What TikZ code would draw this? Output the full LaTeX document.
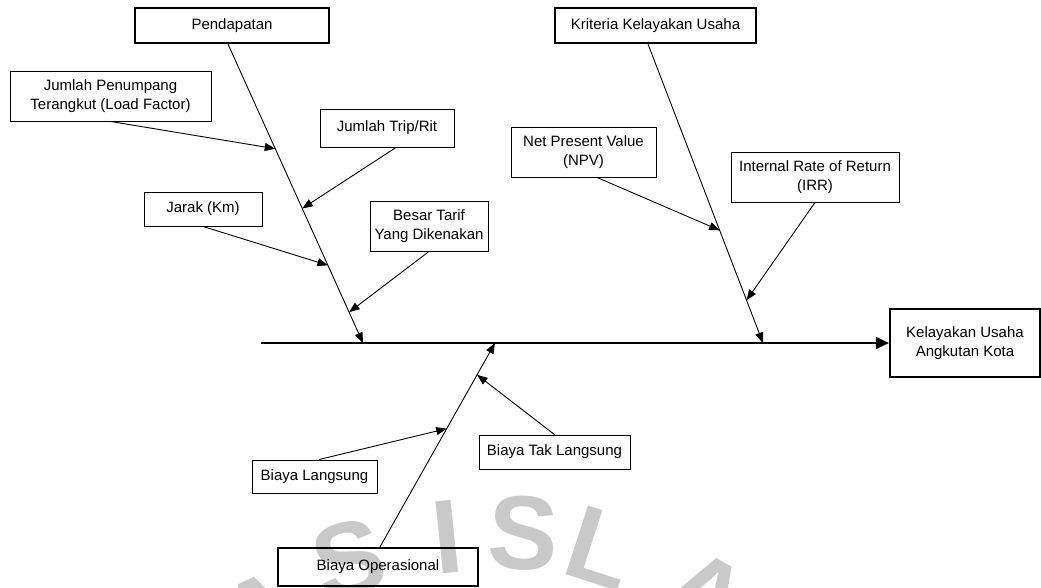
\documentclass[tikz,border=0pt]{standalone}
\usepackage{fontspec}
\setmainfont{Liberation Sans}
\usetikzlibrary{arrows.meta,calc}

\tikzset{
  box/.style={draw=black, line width=0.9pt, inner sep=0pt, align=center,
    font=\fontsize{15}{18.3}\selectfont},
  headbox/.style={box, line width=2.2pt},
  bone/.style={draw=black, line width=0.9pt},
  cause/.style={bone, -{Triangle[length=10.5pt,width=8pt]}},
  spine/.style={draw=black, line width=2pt, -{Triangle[length=13pt,width=12pt]}},
  wm/.style={text=black!21, font=\fontsize{105}{105}\selectfont\bfseries, inner sep=0pt},
}

\begin{document}
\begin{tikzpicture}[x=1pt,y=-1pt]
  \useasboundingbox (0,0) rectangle (1041,587);

  % faint watermark lettering along the lower edge
  \begin{scope}
    \clip (0,0) rectangle (1041,587);
    \node[wm, rotate=25]  (wmA0) at (262,614) {A};
    \node[wm, rotate=15]  (wmS1) at (349,560) {S};
    \node[wm, rotate=6]   (wmI)  at (447,537) {I};
    \node[wm, rotate=-3]  (wmS2) at (523,533) {S};
    \node[wm, rotate=-18] (wmL)  at (601,548) {L};
    \node[wm, rotate=-30] (wmA)  at (706,594) {A};
  \end{scope}

  % effect box and main categories
  \node[headbox, minimum width=150pt, minimum height=68pt] (kel) at (965,343)
    {Kelayakan Usaha\\Angkutan Kota};
  \node[headbox, minimum width=194pt, minimum height=35pt] (pend) at (232,25.5) {Pendapatan};
  \node[headbox, minimum width=201pt, minimum height=35pt] (krit) at (655.5,25.5) {Kriteria Kelayakan Usaha};
  \node[headbox, minimum width=200pt, minimum height=38pt] (bo) at (378,567) {Biaya Operasional};

  % sub causes
  \node[box, minimum width=201pt, minimum height=50pt] (jp) at (110.5,96)
    {Jumlah Penumpang\\Terangkut (Load Factor)};
  \node[box, minimum width=134pt, minimum height=38pt] (trip) at (387,128) {Jumlah Trip/Rit};
  \node[box, minimum width=118pt, minimum height=34pt] (jarak) at (203,209) {Jarak (Km)};
  \node[box, minimum width=118pt, minimum height=50pt] (tarif) at (429,226)
    {Besar Tarif\\Yang Dikenakan};
  \node[box, minimum width=145pt, minimum height=50pt] (npv) at (583.5,152)
    {Net Present Value\\(NPV)};
  \node[box, minimum width=168pt, minimum height=50pt] (irr) at (815,177)
    {Internal Rate of Return\\(IRR)};
  \node[box, minimum width=125pt, minimum height=33pt] (bl) at (314.5,476.5) {Biaya Langsung};
  \node[box, minimum width=151pt, minimum height=34pt] (btl) at (554.5,452) {Biaya Tak Langsung};

  % spine
  \coordinate (sp0) at (261,343);
  \draw[spine] (sp0) -- (kel.west);

  % bone ends on the spine
  \coordinate (pendTop) at ([xshift=-4pt]pend.south);
  \coordinate (pendEnd) at (363,343);
  \coordinate (kritTop) at ([xshift=-7.5pt]krit.south);
  \coordinate (kritEnd) at (763,343);
  \coordinate (boTop) at ([xshift=2pt]bo.north);
  \coordinate (boEnd) at (495,343);

  \draw[cause] (pendTop) -- (pendEnd);
  \draw[cause] (kritTop) -- (kritEnd);
  \draw[cause] (boTop) -- (boEnd);

  % sub cause arrows onto the bones
  \draw[cause] (jp.south) -- ($(pendTop)!0.35!(pendEnd)$);
  \draw[cause] ([xshift=9pt]trip.south) -- ($(pendTop)!0.55!(pendEnd)$);
  \draw[cause] (jarak.south) -- ($(pendTop)!0.74!(pendEnd)$);
  \draw[cause] (tarif.south) -- ($(pendTop)!0.897!(pendEnd)$);

  \draw[cause] ([xshift=13.5pt]npv.south) -- ($(kritTop)!0.623!(kritEnd)$);
  \draw[cause] (irr.south) -- ($(kritTop)!0.857!(kritEnd)$);

  \draw[cause] ([xshift=4.5pt]bl.north) -- ($(boTop)!0.58!(boEnd)$);
  \draw[cause] (btl.north) -- ($(boTop)!0.844!(boEnd)$);
\end{tikzpicture}
\end{document}
